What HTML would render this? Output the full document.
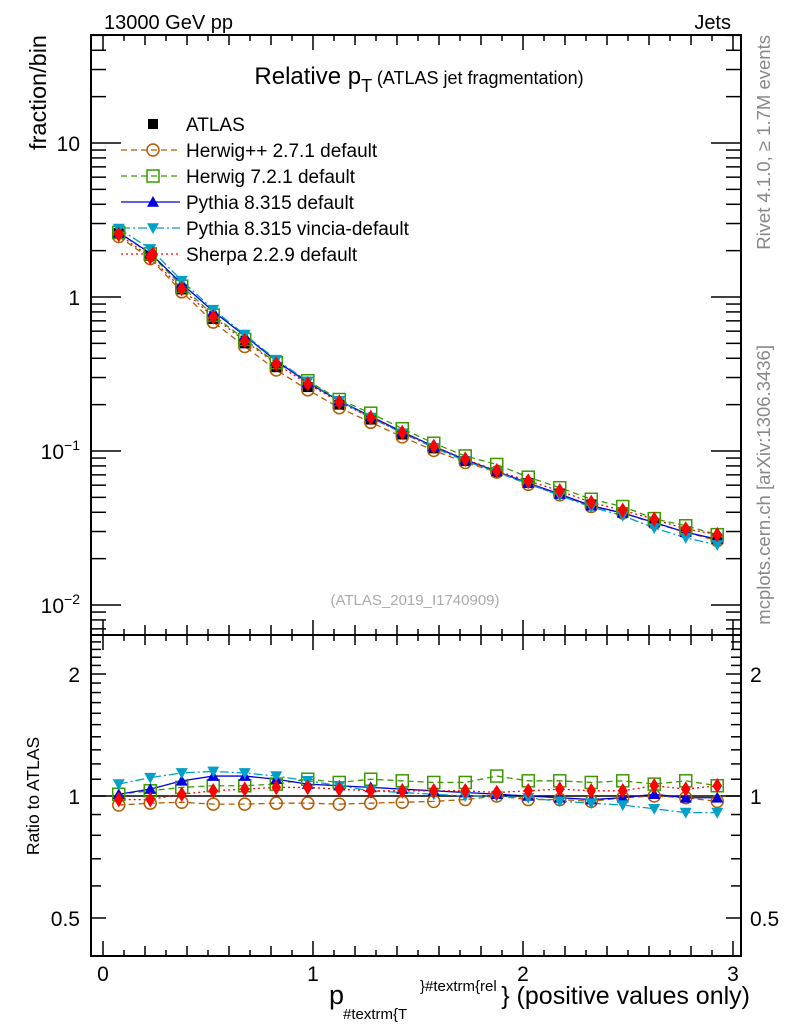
<!DOCTYPE html>
<html><head><meta charset="utf-8">
<style>
html,body{margin:0;padding:0;background:#fff;}
svg{display:block;font-family:"Liberation Sans",Arial,sans-serif;}
</style></head>
<body>
<svg id="c" width="786" height="1024" viewBox="0 0 786 1024" xmlns="http://www.w3.org/2000/svg">
<rect width="786" height="1024" fill="#fff"/>
<text x="104" y="29" font-size="20">13000 GeV pp</text>
<text x="731" y="29" font-size="20" text-anchor="end">Jets</text>
<text x="419" y="84" font-size="24" text-anchor="middle">Relative p<tspan font-size="18" dy="8">T</tspan><tspan font-size="18" dy="-8"> (ATLAS jet fragmentation)</tspan></text>
<text transform="translate(46,35) rotate(-90)" font-size="23.5" text-anchor="end">fraction/bin</text>
<text transform="translate(39,796) rotate(-90)" font-size="17.5" text-anchor="middle">Ratio to ATLAS</text>
<text transform="translate(770,35) rotate(-90)" font-size="18.5" fill="#888" text-anchor="end">Rivet 4.1.0, ≥ 1.7M events</text>
<text transform="translate(770,345) rotate(-90)" font-size="18.5" fill="#888" text-anchor="end">mcplots.cern.ch [arXiv:1306.3436]</text>
<text x="415" y="605" font-size="15" fill="#aaa" text-anchor="middle">(ATLAS_2019_I1740909)</text>
<g>
<text x="329" y="1004" font-size="27">p</text>
<text x="343" y="1019" font-size="15">#textrm{T</text>
<text x="420" y="991" font-size="15">}#textrm{rel</text>
<text x="750" y="1004" font-size="25" text-anchor="end">} (positive values only)</text>
</g>
<g id="g"></g>
</svg>
<script>
const xCenters=[0.075,0.225,0.375,0.525,0.675,0.825,0.975,1.125,1.275,1.425,1.575,1.725,1.875,2.025,2.175,2.325,2.475,2.625,2.775,2.925];
const atlas=[2.6,1.85,1.12,0.72,0.5,0.35,0.26,0.2,0.16,0.128,0.104,0.086,0.073,0.062,0.053,0.045,0.04,0.034,0.03,0.027];
const rHerwigpp=[0.95,0.96,0.965,0.955,0.955,0.96,0.96,0.955,0.96,0.965,0.97,0.98,1.0,0.98,0.98,0.97,0.99,1.0,0.99,0.97];
const rHerwig7=[1.01,1.03,1.05,1.06,1.06,1.07,1.10,1.08,1.10,1.09,1.08,1.08,1.12,1.09,1.09,1.08,1.09,1.07,1.09,1.06];
const rPythia=[1.01,1.04,1.09,1.12,1.12,1.10,1.07,1.06,1.05,1.04,1.03,1.02,1.01,1.0,0.99,0.98,0.99,1.01,0.99,0.99];
const rVincia=[1.07,1.11,1.14,1.15,1.14,1.12,1.09,1.06,1.03,1.02,1.01,1.0,1.0,0.99,0.97,0.96,0.95,0.93,0.91,0.91];
const rSherpa=[0.98,0.98,1.01,1.03,1.04,1.05,1.05,1.04,1.03,1.03,1.03,1.03,1.02,1.03,1.04,1.03,1.03,1.06,1.04,1.06];
const xTickLabels=["0","1","2","3"];
const legendNames=["ATLAS","Herwig++ 2.7.1 default","Herwig 7.2.1 default","Pythia 8.315 default","Pythia 8.315 vincia-default","Sherpa 2.2.9 default"];

const NS="http://www.w3.org/2000/svg";
const g=document.getElementById('g');
const L=91,R=741,T=35,M=635,B=956;
const X=v=>103+v*210;
const Y=v=>143-(Math.log10(v)-1)*154;
const YR=v=>796-Math.log2(v)*122;
function el(tag,attrs,parent){const e=document.createElementNS(NS,tag);for(const k in attrs)e.setAttribute(k,attrs[k]);(parent||g).appendChild(e);return e;}
function line(x1,y1,x2,y2,w,c,name){const e=el('line',{x1,y1,x2,y2,stroke:c||'#000','stroke-width':w||1});

return e;}
function txt(x,y,s,size,anchor,name){const e=el('text',{x,y,'font-size':size,'text-anchor':anchor||'middle'});e.textContent=s;

return e;}

const f1=el('rect',{x:L,y:T,width:R-L,height:M-T,fill:'none',stroke:'#000','stroke-width':2});


const f2=el('rect',{x:L,y:M,width:R-L,height:B-M,fill:'none',stroke:'#000','stroke-width':2});



for(let i=0;i<=30;i++){const v=i/10,x=X(v);const len=i%10==0?15:(i%2==0?10:6);
 line(x,M,x,M-len,1.5);line(x,T,x,T+len,1.5);line(x,B,x,B-len,1.5);line(x,M,x,M+len,1.5);}
xTickLabels.forEach((s,i)=>txt(X(i),981,s,21,'middle','x-tick-label'));

for(let d=-3;d<=1;d++){for(let m=1;m<=9;m++){const v=m*Math.pow(10,d);const y=Y(v);if(y<T||y>M)continue;
 const len=m==1?30:15;line(L,y,L+len,y,1.5);line(R,y,R-len,y,1.5);}}
txt(80,151,"10",21,'end','y-tick-label');
txt(80,305,"1",21,'end','y-tick-label');
const t1=txt(80,459,"10",21,'end','y-tick-label');const s1=el('tspan',{dy:-9,'font-size':14},t1);s1.textContent="−1";
const t2=txt(80,613,"10",21,'end','y-tick-label');const s2=el('tspan',{dy:-9,'font-size':14},t2);s2.textContent="−2";

[0.4,0.5,0.6,0.7,0.8,0.9,1,1.1,1.2,1.3,1.4,1.5,1.6,1.7,1.8,1.9,2,2.1,2.2,2.3,2.4,2.5].forEach(v=>{const y=YR(v);if(y<M||y>B)return;
 const len=(v==0.5||v==1||v==2)?15:10;line(L,y,L+len,y,1.5);line(R,y,R-len,y,1.5);});
[["2",2],["1",1],["0.5",0.5]].forEach(([s,v])=>{txt(80,YR(v)+8,s,21,'end','ratio-tick-label');txt(750,YR(v)+8,s,21,'start','ratio-tick-label-right');});
line(L,YR(1),R,YR(1),1.5,'#000','ratio-reference-line');

function marker(type,x,y,c,s,name){let e;
 if(type=='sq')e=el('rect',{x:x-s,y:y-s,width:2*s,height:2*s,fill:c});
 else if(type=='osq')e=el('rect',{x:x-s,y:y-s,width:2*s,height:2*s,fill:'none',stroke:c,'stroke-width':1.5});
 else if(type=='oc')e=el('circle',{cx:x,cy:y,r:s,fill:'none',stroke:c,'stroke-width':1.5});
 else if(type=='tu')e=el('polygon',{points:`${x},${y-s} ${x-s},${y+s*0.8} ${x+s},${y+s*0.8}`,fill:c});
 else if(type=='td')e=el('polygon',{points:`${x},${y+s} ${x-s},${y-s*0.8} ${x+s},${y-s*0.8}`,fill:c});
 else if(type=='di')e=el('polygon',{points:`${x},${y-s*1.3} ${x-s*0.8},${y} ${x},${y+s*1.3} ${x+s*0.8},${y}`,fill:c});
 
 return e;}

const series=[
 {name:'herwigpp',r:rHerwigpp,c:'#b35c00',dash:'6,4',m:'oc'},
 {name:'herwig7',r:rHerwig7,c:'#3a9a00',dash:'6,4',m:'osq'},
 {name:'pythia',r:rPythia,c:'#0000e0',dash:'',m:'tu'},
 {name:'vincia',r:rVincia,c:'#00a0c8',dash:'9,3,2,3',m:'td'},
 {name:'sherpa',r:rSherpa,c:'#ff0000',dash:'2,3',m:'di'}];

series.forEach(s=>{
 const pm=xCenters.map((x,i)=>X(x)+','+Y(atlas[i]*s.r[i])).join(' ');
 const pl=el('polyline',{points:pm,fill:'none',stroke:s.c,'stroke-width':1.3,'stroke-dasharray':s.dash});
 
 
 const pr=xCenters.map((x,i)=>X(x)+','+YR(s.r[i])).join(' ');
 const pl2=el('polyline',{points:pr,fill:'none',stroke:s.c,'stroke-width':1.3,'stroke-dasharray':s.dash});
 
 
});
xCenters.forEach((x,i)=>marker('sq',X(x),Y(atlas[i]),'#000',5,'atlas-point'));
series.forEach(s=>{xCenters.forEach((x,i)=>{
 marker(s.m,X(x),Y(atlas[i]*s.r[i]),s.c,6,s.name+'-point');
 marker(s.m,X(x),YR(s.r[i]),s.c,6,s.name+'-ratio-point');});});

const ly=[124,150,176,202,228,254];
legendNames.forEach((n,i)=>{const y=ly[i];
 if(i==0){marker('sq',153,y,'#000',5,'legend-marker');}
 else{const s=series[i-1];const l=line(121,y,180,y,1.3,s.c,'legend-line');if(s.dash)l.setAttribute('stroke-dasharray',s.dash);marker(s.m,153,y,s.c,6,'legend-marker');}
 txt(186,y+7,n,19,'start','legend-entry');});
</script>
</body></html>
